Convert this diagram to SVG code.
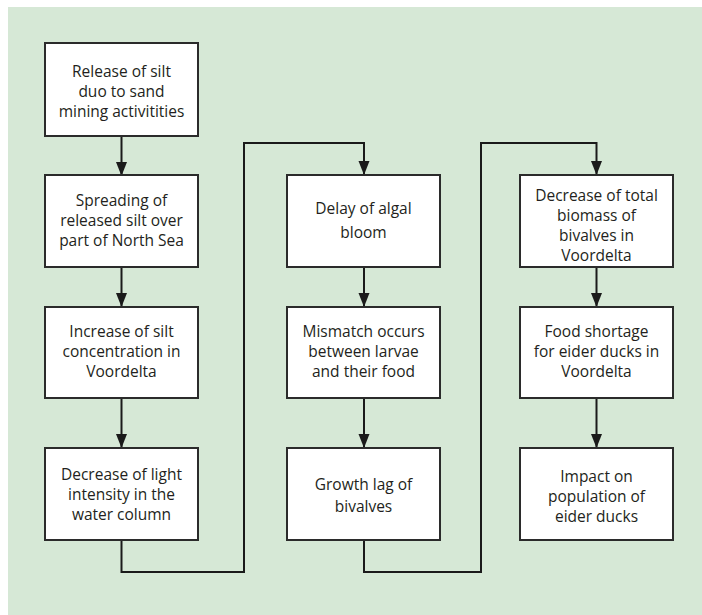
<svg xmlns="http://www.w3.org/2000/svg" width="702" height="615" viewBox="0 0 702 615">
<style>
.box{fill:#ffffff;stroke:#2b2b2b;stroke-width:2}
.t{font-family:"Open Sans","Liberation Sans",sans-serif;font-size:15.5px;fill:#231f20;text-anchor:middle}
.c{fill:none;stroke:#1a1a1a;stroke-width:2}
</style>
<defs>
<marker id="ah" markerUnits="userSpaceOnUse" markerWidth="14" markerHeight="12" refX="13" refY="5.5" orient="auto">
<path d="M0,0 L14,5.5 L0,11 Z" fill="#1a1a1a"/>
</marker>
</defs>
<rect x="8" y="7" width="694" height="608" fill="#d6e8d6"/>
<g id="connectors">
<line class="c" x1="121.5" y1="136" x2="121.5" y2="175" marker-end="url(#ah)"/>
<line class="c" x1="121.5" y1="267" x2="121.5" y2="306" marker-end="url(#ah)"/>
<line class="c" x1="121.5" y1="398" x2="121.5" y2="447" marker-end="url(#ah)"/>
<polyline class="c" points="121.5,540 121.5,572 244,572 244,143 364,143 364,174" marker-end="url(#ah)"/>
<line class="c" x1="364" y1="267" x2="364" y2="306" marker-end="url(#ah)"/>
<line class="c" x1="364" y1="398" x2="364" y2="447" marker-end="url(#ah)"/>
<polyline class="c" points="364,540 364,572 481,572 481,143 596.5,143 596.5,174" marker-end="url(#ah)"/>
<line class="c" x1="596.5" y1="267" x2="596.5" y2="306" marker-end="url(#ah)"/>
<line class="c" x1="596.5" y1="398" x2="596.5" y2="447" marker-end="url(#ah)"/>
</g>
<g id="n1"><rect class="box" x="45" y="43" width="153" height="93"/>
<text class="t" x="121.5" y="77">Release of silt</text><text class="t" x="121.5" y="97">duo to sand</text><text class="t" x="121.5" y="117">mining activitities</text></g>
<g id="n2"><rect class="box" x="45" y="175" width="153" height="92"/>
<text class="t" x="121.5" y="206">Spreading of</text><text class="t" x="121.5" y="226">released silt over</text><text class="t" x="121.5" y="246">part of North Sea</text></g>
<g id="n3"><rect class="box" x="45" y="307" width="153" height="91"/>
<text class="t" x="121.5" y="337">Increase of silt</text><text class="t" x="121.5" y="357">concentration in</text><text class="t" x="121.5" y="377">Voordelta</text></g>
<g id="n4"><rect class="box" x="45" y="448" width="153" height="92"/>
<text class="t" x="121.5" y="480">Decrease of light</text><text class="t" x="121.5" y="500">intensity in the</text><text class="t" x="121.5" y="520">water column</text></g>
<g id="n5"><rect class="box" x="287" y="175" width="153" height="92"/>
<text class="t" x="363.5" y="214">Delay of algal</text><text class="t" x="363.5" y="238">bloom</text></g>
<g id="n6"><rect class="box" x="287" y="307" width="153" height="91"/>
<text class="t" x="363.5" y="337">Mismatch occurs</text><text class="t" x="363.5" y="357">between larvae</text><text class="t" x="363.5" y="377">and their food</text></g>
<g id="n7"><rect class="box" x="287" y="448" width="153" height="92"/>
<text class="t" x="363.5" y="490">Growth lag of</text><text class="t" x="363.5" y="512">bivalves</text></g>
<g id="n8"><rect class="box" x="520" y="175" width="153" height="92"/>
<text class="t" x="596.5" y="201">Decrease of total</text><text class="t" x="596.5" y="221">biomass of</text><text class="t" x="596.5" y="241">bivalves in</text><text class="t" x="596.5" y="261">Voordelta</text></g>
<g id="n9"><rect class="box" x="520" y="307" width="153" height="91"/>
<text class="t" x="596.5" y="337">Food shortage</text><text class="t" x="596.5" y="357">for eider ducks in</text><text class="t" x="596.5" y="377">Voordelta</text></g>
<g id="n10"><rect class="box" x="520" y="448" width="153" height="92"/>
<text class="t" x="596.5" y="482">Impact on</text><text class="t" x="596.5" y="502">population of</text><text class="t" x="596.5" y="522">eider ducks</text></g>
</svg>
